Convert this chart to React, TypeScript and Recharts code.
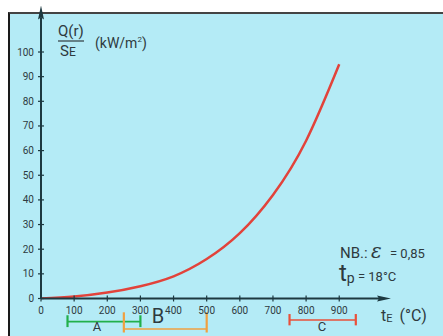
import React from "react";
import {
  LineChart,
  Line,
  XAxis,
  YAxis,
  ReferenceLine,
} from "recharts";

// t_E (°C) against Q(r)/S_E (kW/m²)
const temps = [0, 100, 200, 300, 400, 500, 600, 700, 800, 900];
const flux = [0, 0.8, 2.4, 5, 9, 16, 26.5, 42, 64, 95];

const xTicks = [0, 100, 200, 300, 400, 500, 600, 700, 800, 900];
const yTicks = [0, 10, 20, 30, 40, 50, 60, 70, 80, 90, 100];

// temperature ranges under the axis
const rangeNames = ["A", "B", "C"];
const rangeFrom = [80, 250, 750];
const rangeTo = [300, 500, 950];
const rangeColors = ["#22b04a", "#f0a040", "#e8503a"];
// vertical placement (in y units below 0) and end-cap extents
const rangeRow = [-9.4, -12.4, -8.7];
const capUp = [2.6, 6.8, 2.4];
const capDown = [2.2, 1.4, 2.2];

const data = temps.map((t, i) => ({ t, q: flux[i] }));

const AXIS = "#1d3940";
const LABEL = "#2e3a3e";
const FONT = "'Liberation Sans Narrow', Roboto, sans-serif";

const YTick = (props: any) => {
  const { x, y, payload } = props;
  return (
    <g>
      <line x1={x + 3} x2={x + 9} y1={y} y2={y} stroke={AXIS} strokeWidth={1.2} />
      <text x={x - 1} y={y} dy={3.5} textAnchor="end" fontSize={10} fill={LABEL} fontFamily={FONT}>
        {payload.value}
      </text>
    </g>
  );
};

const XTick = (props: any) => {
  const { x, y, payload } = props;
  return (
    <g>
      <line x1={x} x2={x} y1={y - 11} y2={y - 5} stroke={AXIS} strokeWidth={1.2} />
      <text x={x} y={y} dy={7} textAnchor="middle" fontSize={10} fill={LABEL} fontFamily={FONT}>
        {payload.value}
      </text>
    </g>
  );
};

export default function App() {
  return (
    <div style={{ position: "absolute", left: 0, top: 0, width: 443, height: 336, background: "#fff", overflow: "hidden" }}>
      <div
        style={{
          position: "absolute",
          left: 8,
          top: 12,
          width: 435,
          height: 324,
          background: "#b4ebf6",
          borderLeft: "2px solid #1a1a1a",
          borderTop: "2px solid #444",
          boxSizing: "border-box",
        }}
      />
      <svg width={0} height={0} style={{ position: "absolute" }}>
        <defs>
          <marker id="arrow" viewBox="0 0 14 8" refX="2" refY="4" markerWidth="14" markerHeight="8" markerUnits="userSpaceOnUse" orient="auto-start-reverse">
            <path d="M0,1 L14,4 L0,7 L2,4 Z" fill={AXIS} />
          </marker>
        </defs>
      </svg>
      <div style={{ position: "absolute", left: 0, top: 0 }}>
        <LineChart
          width={443}
          height={336}
          data={data}
          margin={{ top: 17.5, right: 64, bottom: 7.5, left: 11 }}
          style={{ overflow: "visible" }}
        >
          <XAxis
            dataKey="t"
            type="number"
            domain={[0, 1020]}
            allowDataOverflow
            ticks={xTicks}
            height={30}
            tickLine={false}
            tickSize={0}
            tickMargin={8}
            tick={<XTick />}
            axisLine={{ stroke: AXIS, strokeWidth: 2, markerEnd: "url(#arrow)" } as any}
          />
          <YAxis
            type="number"
            domain={[0, 114]}
            allowDataOverflow
            ticks={yTicks}
            width={30}
            tickLine={false}
            tickSize={0}
            tickMargin={6}
            tick={<YTick />}
            axisLine={{ stroke: AXIS, strokeWidth: 2, markerStart: "url(#arrow)" } as any}
          />
          <Line
            dataKey="q"
            type="natural"
            stroke="#e2433b"
            strokeWidth={2.5}
            dot={false}
            isAnimationActive={false}
          />
          {rangeNames.map((n, i) => (
            <ReferenceLine
              key={n + "h"}
              ifOverflow="visible"
              segment={[
                { x: rangeFrom[i], y: rangeRow[i] },
                { x: rangeTo[i], y: rangeRow[i] },
              ]}
              stroke={rangeColors[i]}
              strokeWidth={1.6}
            />
          ))}
          {rangeNames.map((n, i) => (
            <ReferenceLine
              key={n + "a"}
              ifOverflow="visible"
              segment={[
                { x: rangeFrom[i], y: rangeRow[i] + capUp[i] },
                { x: rangeFrom[i], y: rangeRow[i] - capDown[i] },
              ]}
              stroke={rangeColors[i]}
              strokeWidth={2.2}
            />
          ))}
          {rangeNames.map((n, i) => (
            <ReferenceLine
              key={n + "b"}
              ifOverflow="visible"
              segment={[
                { x: rangeTo[i], y: rangeRow[i] + capUp[i] },
                { x: rangeTo[i], y: rangeRow[i] - capDown[i] },
              ]}
              stroke={rangeColors[i]}
              strokeWidth={2.2}
            />
          ))}
        </LineChart>
      </div>
      <svg width={443} height={336} style={{ position: "absolute", left: 0, top: 0, pointerEvents: "none" }} fontFamily={FONT} fill={LABEL}>
        <text x={58} y={36} fontSize={15}>Q(r)</text>
        <line x1={58} x2={84} y1={41} y2={41} stroke={LABEL} strokeWidth={1.2} />
        <text x={60} y={56} fontSize={15}>S<tspan fontSize={12}>E</tspan></text>
        <text x={95} y={48} fontSize={14}>(kW/m<tspan fontSize={8} dy={-6}>2</tspan><tspan dy={6}>)</tspan></text>

        <text x={340} y={258} fontSize={15}>NB.:</text>
        <text x={371} y={258} fontSize={20} fontStyle="italic" fontFamily="'DejaVu Serif', serif">ε</text>
        <text x={390} y={258} fontSize={13}>= 0,85</text>
        <text x={339} y={281} fontSize={24}>t<tspan fontSize={14} dy={2}>p</tspan><tspan fontSize={13} dy={-2}> = 18°C</tspan></text>

        <text x={381} y={321} fontSize={16}>t<tspan fontSize={11} dy={1}>E</tspan><tspan fontSize={16} dy={-1} dx={7}>(°C)</tspan></text>

        <text x={97} y={331} fontSize={13} textAnchor="middle">A</text>
        <text x={158} y={323} fontSize={20} textAnchor="middle">B</text>
        <text x={322} y={331} fontSize={13} textAnchor="middle">C</text>
      </svg>
    </div>
  );
}
